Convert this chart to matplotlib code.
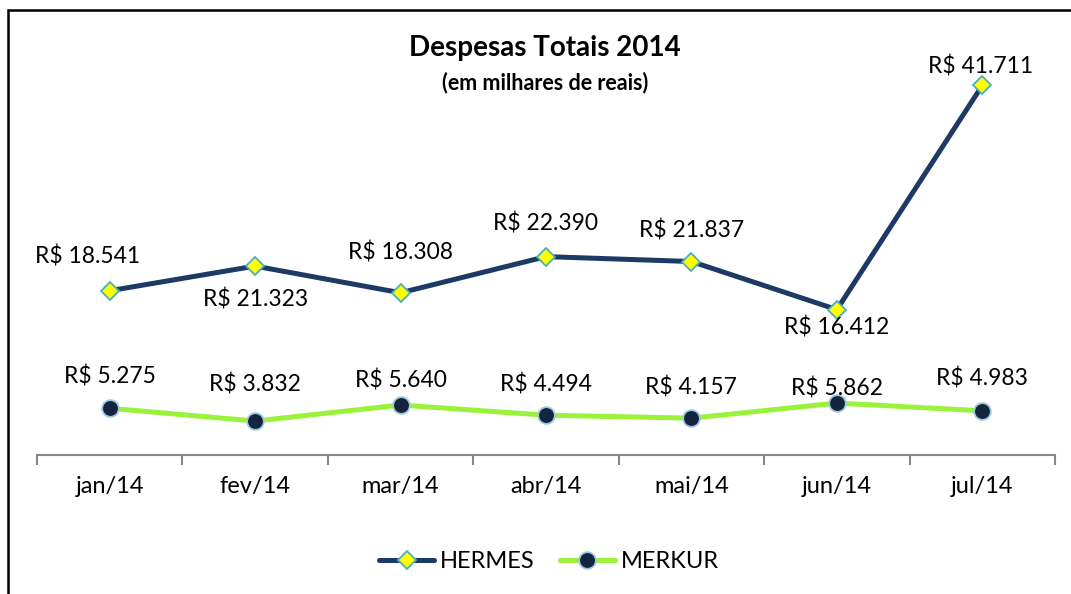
import matplotlib.pyplot as plt
from matplotlib.patches import Rectangle

plt.rcParams['font.family'] = ['Lato', 'DejaVu Sans']

meses = ["jan/14", "fev/14", "mar/14", "abr/14", "mai/14", "jun/14", "jul/14"]
hermes = [18.541, 21.323, 18.308, 22.390, 21.837, 16.412, 41.711]
merkur = [5.275, 3.832, 5.640, 4.494, 4.157, 5.862, 4.983]
hermes_txt = ["R$ 18.541", "R$ 21.323", "R$ 18.308", "R$ 22.390", "R$ 21.837", "R$ 16.412", "R$ 41.711"]
merkur_txt = ["R$ 5.275", "R$ 3.832", "R$ 5.640", "R$ 4.494", "R$ 4.157", "R$ 5.862", "R$ 4.983"]

# label offsets in pixels (dx, dy)
off_h = [(-22, 34), (0, -33), (0, 40), (0, 33), (0, 31), (0, -18), (-2, 19)]
off_m = [(0, 32), (0, 37), (0, 25), (0, 31), (0, 31), (0, 15), (0, 32)]

W, H = 1071, 594
fig = plt.figure(figsize=(W / 100, H / 100), dpi=100)
ax = fig.add_axes([37 / W, 1 - 455 / H, (1055 - 37) / W, (455 - 12) / H])

x = list(range(len(meses)))
ax.plot(x, hermes, color="#1c3a63", lw=3.6, marker="D", ms=9,
        mfc="#ffff00", mec="#4bacc6", mew=1.3, label="HERMES", solid_capstyle="round")
ax.plot(x, merkur, color="#9af23a", lw=3.6, marker="o", ms=12,
        mfc="#14243f", mec="#9cc8dc", mew=1.3, label="MERKUR", solid_capstyle="round")

for i in x:
    ax.annotate(hermes_txt[i], (i, hermes[i]), xytext=off_h[i], textcoords="offset pixels",
                ha="center", va="center", fontsize=16.5)
    ax.annotate(merkur_txt[i], (i, merkur[i]), xytext=off_m[i], textcoords="offset pixels",
                ha="center", va="center", fontsize=16.5)

ax.set_xlim(-0.5, 6.5)
ax.set_ylim(0, 50)
for s in ["top", "left", "right"]:
    ax.spines[s].set_visible(False)
ax.spines["bottom"].set_color("#868686")
ax.spines["bottom"].set_linewidth(1.5)
ax.set_yticks([])
ax.set_xticks([i - 0.5 for i in range(len(meses) + 1)])
ax.set_xticklabels([])
ax.set_xticks(x, minor=True)
ax.set_xticklabels(meses, minor=True, fontsize=17)
ax.tick_params(axis="x", which="major", length=7, width=1.5, color="#868686")
ax.tick_params(axis="x", which="minor", length=0, pad=15)

fig.text(545 / W, 1 - 48 / H, "Despesas Totais 2014", ha="center", va="center",
         fontsize=20, fontweight="bold")
fig.text(545 / W, 1 - 83 / H, "(em milhares de reais)", ha="center", va="center",
         fontsize=15.5, fontweight="bold")

fig.legend(loc="center", bbox_to_anchor=(549 / W, 1 - 562 / H), ncol=2, frameon=False,
           fontsize=17, handlelength=2.3, columnspacing=1.1, handletextpad=0.25)

fig.add_artist(Rectangle((8 / W, -0.1), 1.2, 1.1 - 10 / H, fill=False, ec="black",
                         lw=1.8, transform=fig.transFigure))

fig.savefig("out.png", dpi=100)
